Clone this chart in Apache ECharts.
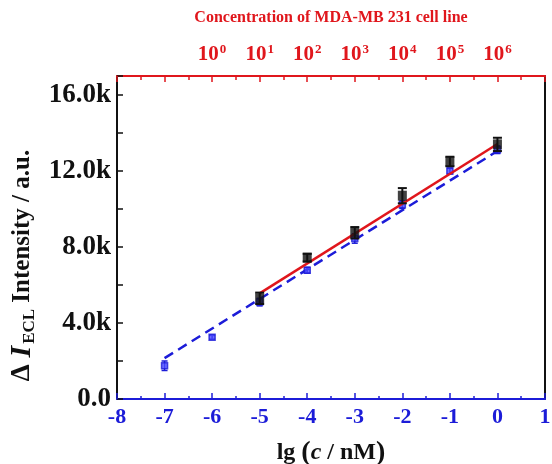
<!DOCTYPE html>
<html>
<head>
<meta charset="utf-8">
<script src="https://cdn.jsdelivr.net/npm/echarts@6/dist/echarts.min.js"></script>
<style>
  html, body { margin: 0; padding: 0; background: #fff; }
  #chart { width: 552px; height: 464px; }
</style>
</head>
<body>
<div id="chart"></div>
<script>
// cell line data (black squares, red fit)
const cellX = [-5, -4, -3, -2, -1, 0];
const cellY = [5300, 7440, 8750, 10700, 12500, 13400];
const cellErr = [300, 200, 300, 400, 250, 350];

// standard data (blue squares, blue dashed fit)
const stdX = [-7, -6, -5, -4, -3, -2, -1, 0];
const stdY = [1750, 3250, 5100, 6780, 8450, 10230, 12000, 13120];
const stdErr = [250, 100, 200, 150, 250, 200, 150, 200];

// fitted lines, end points
const redFitX = [-5, 0];
const redFitY = [5560, 13420];
const blueFitX = [-7, 0];
const blueFitY = [2150, 13050];

const topLabels = ['10', '10', '10', '10', '10', '10', '10'];
const topExp = ['0', '1', '2', '3', '4', '5', '6'];

const BLUE = '#1c1cd8';
const RED = '#e0161c';
const FONT = '"Liberation Serif", "DejaVu Serif", serif';

const chart = echarts.init(document.getElementById('chart'));

const errBar = (color, capHalf, width) => (params, api) => {
  const x = api.value(0);
  const lo = api.coord([x, api.value(1)]);
  const hi = api.coord([x, api.value(2)]);
  const st = { stroke: color, lineWidth: width };
  return {
    type: 'group',
    children: [
      { type: 'line', shape: { x1: lo[0], y1: lo[1], x2: hi[0], y2: hi[1] }, style: st },
      { type: 'line', shape: { x1: lo[0] - capHalf, y1: lo[1], x2: lo[0] + capHalf, y2: lo[1] }, style: st },
      { type: 'line', shape: { x1: hi[0] - capHalf, y1: hi[1], x2: hi[0] + capHalf, y2: hi[1] }, style: st }
    ]
  };
};

chart.setOption({
  animation: false,
  textStyle: { fontFamily: FONT },
  grid: { left: 117, right: 7, top: 76, bottom: 65, outerBoundsMode: 'none', containLabel: false },
  xAxis: [
    {
      type: 'value', position: 'bottom', min: -8, max: 1, interval: 1,
      axisLine: { onZero: false, lineStyle: { color: BLUE, width: 2 } },
      axisTick: { inside: true, length: 6, lineStyle: { color: BLUE, width: 1.5 } },
      minorTick: { show: true, splitNumber: 2, length: 3, lineStyle: { color: BLUE, width: 1.5 } },
      splitLine: { show: false },
      axisLabel: { color: BLUE, fontSize: 22, fontWeight: 'bold', fontFamily: FONT, margin: 7 },
      name: '{n|lg }{p|(}{i|c}{n| / nM}{p|)}',
      nameLocation: 'middle', nameGap: 40,
      nameTextStyle: {
        rich: {
          n: { fontSize: 24, fontWeight: 'bold', fontFamily: FONT, color: '#111' },
          p: { fontSize: 28, fontWeight: 'bold', fontFamily: FONT, color: '#111' },
          i: { fontSize: 24, fontWeight: 'bold', fontStyle: 'italic', fontFamily: FONT, color: '#111' }
        }
      }
    },
    {
      type: 'value', position: 'top', min: -8, max: 1, interval: 1,
      axisLine: { onZero: false, lineStyle: { color: RED, width: 2 } },
      axisTick: { inside: true, length: 6, lineStyle: { color: RED, width: 1.5 } },
      minorTick: { show: true, splitNumber: 2, length: 4, lineStyle: { color: RED, width: 1.5 } },
      splitLine: { show: false },
      axisLabel: {
        margin: 10,
        formatter: v => {
          const k = Math.round(v) + 6;
          if (k < 0 || k >= topLabels.length) return '';
          return '{b|' + topLabels[k] + '}{s|' + topExp[k] + '}';
        },
        rich: {
          b: { fontSize: 21, fontWeight: 'bold', fontFamily: FONT, color: RED },
          s: { fontSize: 13, fontWeight: 'bold', fontFamily: FONT, color: RED, padding: [0, 0, 10, 1] }
        }
      },
      name: 'Concentration of MDA-MB 231 cell line',
      nameLocation: 'middle', nameGap: 50,
      nameTextStyle: { color: RED, fontSize: 16, fontWeight: 'bold', fontFamily: FONT }
    }
  ],
  yAxis: [
    {
      type: 'value', min: 0, max: 17000, interval: 2000,
      axisLine: { onZero: false, lineStyle: { color: '#111', width: 2 } },
      axisTick: { inside: true, length: 6, lineStyle: { color: '#111', width: 1.5 } },
      splitLine: { show: false },
      axisLabel: {
        color: '#111', fontSize: 27, fontWeight: 'bold', fontFamily: FONT, margin: 6,
        formatter: v => (v === 0 ? '0.0' : v % 4000 === 0 ? (v / 1000).toFixed(1) + 'k' : '')
      },
      name: '{d|Δ }{i|I}{sub|ECL}{n| Intensity / a.u.}',
      nameLocation: 'middle', nameGap: 73, nameRotate: 90,
      nameTextStyle: {
        padding: [0, 56, 0, 0],
        rich: {
          d: { fontSize: 27, fontWeight: 'bold', fontFamily: FONT, color: '#111' },
          n: { fontSize: 25, fontWeight: 'bold', fontFamily: FONT, color: '#111' },
          i: { fontSize: 30, fontWeight: 'bold', fontStyle: 'italic', fontFamily: FONT, color: '#111' },
          sub: { fontSize: 17, fontWeight: 'bold', fontFamily: FONT, color: '#111', padding: [14, 0, 0, 2] }
        }
      }
    },
    {
      type: 'value', position: 'right', min: 0, max: 17000,
      axisLine: { show: true, onZero: false, lineStyle: { color: '#111', width: 2 } },
      axisTick: { show: false }, axisLabel: { show: false }, splitLine: { show: false }
    }
  ],
  series: [
    {
      type: 'line', data: blueFitX.map((x, i) => [x, blueFitY[i]]),
      showSymbol: false, z: 2,
      lineStyle: { color: BLUE, width: 2.5, type: [10, 6] }
    },
    {
      type: 'custom', z: 3,
      renderItem: errBar(BLUE, 3, 1.5),
      data: stdX.map((x, i) => [x, stdY[i] - stdErr[i], stdY[i] + stdErr[i]])
    },
    {
      type: 'scatter', z: 3, symbol: 'rect', symbolSize: 6,
      itemStyle: { color: '#4a4aff', borderColor: BLUE, borderWidth: 1.5 },
      data: stdX.map((x, i) => [x, stdY[i]])
    },
    {
      type: 'line', data: redFitX.map((x, i) => [x, redFitY[i]]),
      showSymbol: false, z: 4,
      lineStyle: { color: RED, width: 2.5 }
    },
    {
      type: 'custom', z: 5,
      renderItem: errBar('#111', 4.5, 2),
      data: cellX.map((x, i) => [x, cellY[i] - cellErr[i], cellY[i] + cellErr[i]])
    },
    {
      type: 'scatter', z: 5, symbol: 'rect', symbolSize: [9, 10],
      itemStyle: { color: '#111' },
      data: cellX.map((x, i) => [x, cellY[i]])
    }
  ]
});
</script>
</body>
</html>
